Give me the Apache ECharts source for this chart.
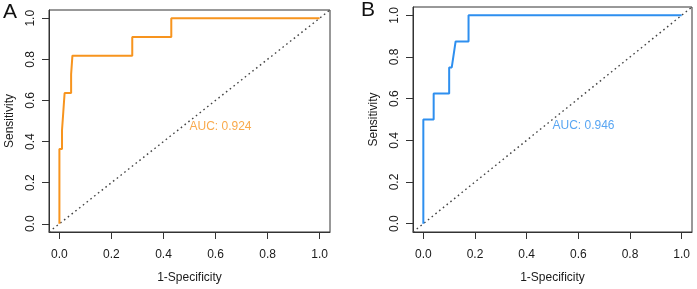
<!DOCTYPE html>
<html>
<head>
<meta charset="utf-8">
<script src="https://cdn.jsdelivr.net/npm/echarts@6/dist/echarts.min.js"></script>
<style>
  html, body { margin: 0; padding: 0; background: #fff; }
  #chart { width: 697px; height: 289px; }
</style>
</head>
<body>
<div id="chart"></div>
<script>
// ROC points
var fprA = [0, 0, 0.01, 0.01, 0.015, 0.015, 0.02, 0.02, 0.045, 0.045, 0.05, 0.05, 0.28, 0.28, 0.43, 0.43, 1];
var tprA = [0, 0.364, 0.364, 0.455, 0.455, 0.545, 0.545, 0.636, 0.636, 0.727, 0.727, 0.818, 0.818, 0.909, 0.909, 1, 1];
var fprB = [0, 0, 0.04, 0.04, 0.1, 0.1, 0.11, 0.125, 0.175, 0.175, 1];
var tprB = [0, 0.5, 0.5, 0.625, 0.625, 0.75, 0.75, 0.875, 0.875, 1, 1];
var aucA = '0.924';
var aucB = '0.946';
var tickValues = [0, 0.2, 0.4, 0.6, 0.8, 1.0];
var diagonal = [-0.04, 1.04];

var colorA = '#F7941E';
var colorB = '#2E8FEF';

function pairs(xs, ys) {
    var out = [];
    for (var i = 0; i < xs.length; i++) out.push([xs[i], ys[i]]);
    return out;
}

var chart = echarts.init(document.getElementById('chart'));

var font = 'Liberation Sans, Arial, sans-serif';

function xAx(idx) {
    return {
        type: 'value',
        gridIndex: idx,
        min: -0.04,
        max: 1.04,
        name: '1-Specificity',
        nameLocation: 'middle',
        nameGap: 40,
        nameTextStyle: { color: '#1a1a1a', fontSize: 12, fontFamily: font },
        axisLine: { show: true, onZero: false, lineStyle: { color: '#333', width: 1 } },
        axisTick: { show: true, customValues: tickValues, length: 7, lineStyle: { color: '#333' } },
        axisLabel: {
            customValues: tickValues, margin: 17, color: '#1a1a1a', fontSize: 12, fontFamily: font,
            formatter: function (v) { return v.toFixed(1); }
        },
        splitLine: { show: false }
    };
}

function yAx(idx) {
    return {
        type: 'value',
        gridIndex: idx,
        min: -0.04,
        max: 1.04,
        name: 'Sensitivity',
        nameLocation: 'middle',
        nameRotate: 90,
        nameGap: 33,
        nameTextStyle: { color: '#1a1a1a', fontSize: 12, fontFamily: font },
        axisLine: { show: true, onZero: false, lineStyle: { color: '#333', width: 1 } },
        axisTick: { show: true, customValues: tickValues, length: 7, lineStyle: { color: '#333' } },
        axisLabel: {
            customValues: tickValues, rotate: 90, margin: 12, color: '#1a1a1a', fontSize: 12, fontFamily: font,
            formatter: function (v) { return v.toFixed(1); }
        },
        splitLine: { show: false }
    };
}

function rocSeries(idx, data, color) {
    return {
        type: 'line', xAxisIndex: idx, yAxisIndex: idx,
        data: data, symbol: 'none', silent: true,
        lineStyle: { color: color, width: 2 }, z: 3
    };
}

function diagSeries(idx) {
    return {
        type: 'line', xAxisIndex: idx, yAxisIndex: idx,
        data: pairs(diagonal, diagonal), symbol: 'none', silent: true,
        lineStyle: { color: '#444', width: 1.4, type: [1.6, 3.2] }, z: 2
    };
}

function aucSeries(idx, text, color) {
    return {
        type: 'scatter', xAxisIndex: idx, yAxisIndex: idx,
        data: [[0.5, 0.5]], symbolSize: 0, silent: true,
        label: {
            show: true, position: 'inside', offset: [0, 0],
            formatter: 'AUC: ' + text, align: 'left', verticalAlign: 'top',
            color: color, fontSize: 12, fontFamily: font
        }
    };
}

var option = {
    animation: false,
    backgroundColor: '#fff',
    grid: [
        { left: 49, top: 10, width: 281, height: 227, show: true, borderColor: '#333', borderWidth: 1, containLabel: false },
        { left: 413, top: 7, width: 279, height: 230, show: true, borderColor: '#333', borderWidth: 1, containLabel: false }
    ],
    xAxis: [xAx(0), xAx(1)],
    yAxis: [yAx(0), yAx(1)],
    graphic: [
        { type: 'text', left: 3, top: 2, style: { text: 'A', fontSize: 21, fill: '#111', fontFamily: font } },
        { type: 'text', left: 361, top: 0, style: { text: 'B', fontSize: 21, fill: '#111', fontFamily: font } }
    ],
    series: [
        diagSeries(0),
        rocSeries(0, pairs(fprA, tprA), colorA),
        aucSeries(0, aucA, colorA),
        diagSeries(1),
        rocSeries(1, pairs(fprB, tprB), colorB),
        aucSeries(1, aucB, colorB)
    ]
};

chart.setOption(option);
</script>
</body>
</html>
